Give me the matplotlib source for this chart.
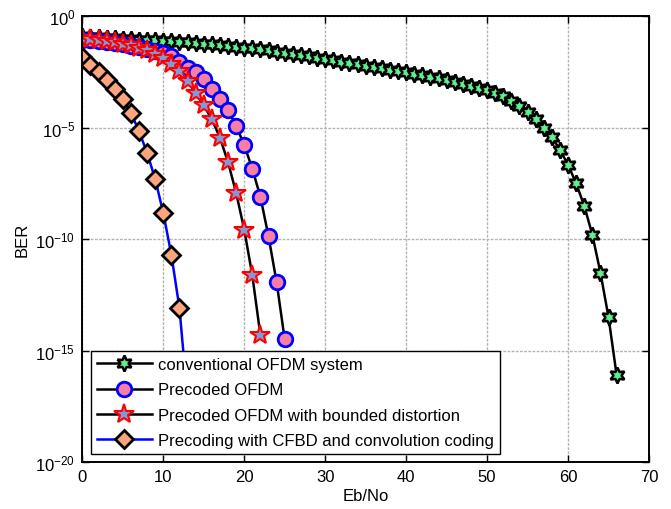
import matplotlib
matplotlib.use("Agg")
import matplotlib.pyplot as plt
import numpy as np

plt.rcParams['font.family'] = ['Liberation Sans', 'DejaVu Sans']
plt.rcParams['mathtext.fontset'] = 'custom'
plt.rcParams['mathtext.rm'] = 'Liberation Sans'
plt.rcParams['mathtext.it'] = 'Liberation Sans'

# ---- data (log10 of BER) ----
conv_x = list(range(0, 67))
conv_log = [-0.90, -0.92, -0.94, -0.96, -0.98, -1.00, -1.02, -1.04, -1.06, -1.08,
            -1.10, -1.12, -1.15, -1.17, -1.20, -1.23, -1.26, -1.29, -1.33, -1.36,
            -1.40, -1.44, -1.48, -1.53, -1.58, -1.63, -1.68, -1.73, -1.79, -1.85,
            -1.91, -1.97, -2.03, -2.09, -2.15, -2.21, -2.27, -2.33, -2.39, -2.45,
            -2.51, -2.57, -2.64, -2.71, -2.78, -2.86, -2.94, -3.02, -3.11, -3.20,
            -3.30, -3.42, -3.56, -3.78, -4.03, -4.30, -4.60, -5.00, -5.40, -6.00,
            -6.65, -7.50, -8.50, -9.80, -11.50, -13.50, -16.10]

prec_x = list(range(0, 26))
prec_log = [-1.05, -1.08, -1.12, -1.16, -1.20, -1.25, -1.31, -1.38, -1.46, -1.55,
            -1.65, -1.80, -2.05, -2.30, -2.48, -2.80, -3.26, -3.71, -4.20, -4.92,
            -5.77, -6.85, -8.10, -9.88, -11.93, -14.50]

bnd_x = list(range(0, 23))
bnd_log = [-0.95, -1.00, -1.05, -1.10, -1.15, -1.22, -1.30, -1.40, -1.52, -1.67,
           -1.88, -2.15, -2.45, -2.90, -3.45, -4.00, -4.62, -5.45, -6.55, -7.92,
           -9.57, -11.63, -14.32]

cfbd_x = list(range(0, 14))
cfbd_log = [-1.82, -2.20, -2.50, -2.85, -3.25, -3.70, -4.33, -5.15, -6.13, -7.30,
            -8.83, -10.70, -13.10, -17.20]

labels = ['conventional OFDM system', 'Precoded OFDM',
          'Precoded OFDM with bounded distortion',
          'Precoding with CFBD and convolution coding']

fig = plt.figure(figsize=(6.71, 5.10), dpi=100)
ax = fig.add_axes([0.1227, 0.0922, 0.9672 - 0.1227, 0.966 - 0.0922])

ax.semilogy(conv_x, 10.0 ** np.array(conv_log), color='black', lw=1.8,
            marker=(6, 1, 0), ms=11.5, mfc='#5ef08f', mec='black', mew=1.8,
            label=labels[0])
ax.semilogy(prec_x, 10.0 ** np.array(prec_log), color='black', lw=1.8,
            marker='o', ms=10.5, mfc='#f77fa6', mec='blue', mew=2,
            label=labels[1])
ax.semilogy(bnd_x, 10.0 ** np.array(bnd_log), color='black', lw=1.8,
            marker='*', ms=15, mfc='#7f9ad8', mec='red', mew=1.5,
            label=labels[2])
ax.semilogy(cfbd_x, 10.0 ** np.array(cfbd_log), color='blue', lw=1.8,
            marker='D', ms=9, mfc='#fba47e', mec='black', mew=2,
            label=labels[3])

ax.set_xlim(0, 70)
ax.set_ylim(1e-20, 1)
ax.set_xticks(range(0, 71, 10))
ax.set_yticks([1e-20, 1e-15, 1e-10, 1e-5, 1])
ax.yaxis.set_minor_locator(matplotlib.ticker.NullLocator())
ax.tick_params(direction='in', which='both', top=True, right=True,
               labelsize=12, length=5, width=1, pad=5)
ax.grid(True, color='#b4b4b4', lw=1.0, ls=(0, (2, 1)))
for s in ax.spines.values():
    s.set_linewidth(1.4)

ax.set_xlabel('Eb/No', fontsize=12, labelpad=3)
ax.set_ylabel('BER', fontsize=12, labelpad=4)

leg = ax.legend(loc='lower left', bbox_to_anchor=(0.015, 0.018),
                borderaxespad=0, fancybox=False, framealpha=1,
                edgecolor='black', fontsize=12, handlelength=3.3,
                labelspacing=0.62, handletextpad=0.4, borderpad=0.35)
leg.get_frame().set_linewidth(1.0)

fig.savefig('out.png', dpi=100)
